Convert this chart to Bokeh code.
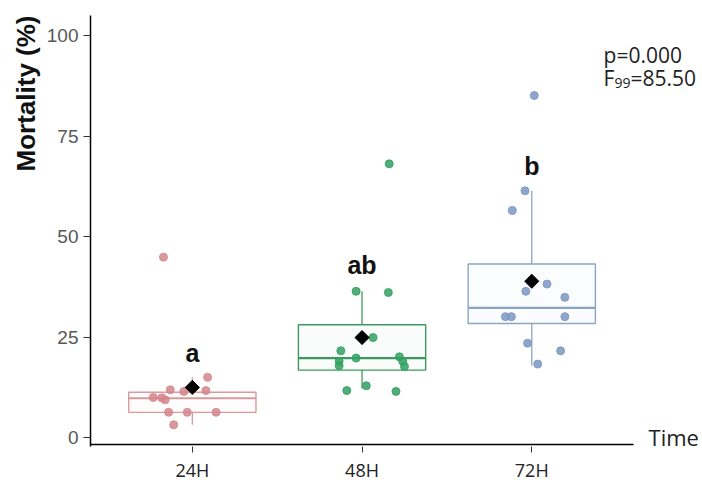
import numpy as np
from bokeh.plotting import figure
from bokeh.models import ColumnDataSource, FixedTicker, Label, Title, Range1d
from bokeh.embed import file_html
from bokeh.resources import INLINE
from bokeh.core.properties import value

# ---- data ----
categories = ["24H", "48H", "72H"]

mort_24h = [44.9, 15.0, 11.9, 11.5, 11.7, 10.0, 9.9, 9.4, 6.3, 6.3, 6.3, 3.2]
jitter_24h = [-0.17, 0.09, -0.13, -0.05, 0.08, -0.23, -0.18, -0.16, -0.14, -0.03, 0.14, -0.11]

mort_48h = [68.1, 36.4, 36.1, 24.9, 21.6, 19.8, 19.0, 17.9, 20.1, 19.0, 17.7, 12.9, 11.7, 11.5]
jitter_48h = [0.16, -0.035, 0.155, 0.065, -0.125, -0.035, -0.135, -0.135, 0.22, 0.24, 0.25, 0.025, -0.09, 0.2]

mort_72h = [85.1, 61.4, 56.5, 38.2, 36.4, 34.9, 30.1, 30.1, 30.1, 23.5, 21.6, 18.3]
jitter_72h = [0.015, -0.04, -0.115, 0.09, -0.035, 0.195, -0.155, -0.12, 0.195, -0.025, 0.17, 0.035]

box_q1 = [6.3, 16.8, 28.4]
box_median = [9.8, 19.8, 32.3]
box_q3 = [11.3, 28.1, 43.2]
whisker_low = [3.2, 12.2, 17.9]
whisker_high = [15.0, 36.4, 61.4]
group_mean = [12.5, 24.9, 38.9]

group_letters = ["a", "ab", "b"]
letter_y = [18.4, 40.3, 65.0]

p_text = "p=0.000"
f_main, f_sub, f_rest = "F", "99", "=85.50"

y_ticks = [0, 25, 50, 75, 100]

# ---- styling / layout ----
point_colors = ["#d4868c", "#33a060", "#7b96c2"]
box_colors = ["#d99a9c", "#3d9a5e", "#8aa6c2"]
box_half = 0.375
PX = 4.02          # screen px per y unit
X0, X1 = 0.4, 3.6  # axis extent
Y_AXIS = -1.7      # where the x axis line sits


def lift(size_px):
    # compensate the renderer's alphabetic-baseline shift
    return 0.43 * size_px / PX


positions = [1, 2, 3]
all_vals = [mort_24h, mort_48h, mort_72h]
all_jit = [jitter_24h, jitter_48h, jitter_72h]

p = figure(width=702, height=488, output_backend="svg", toolbar_location=None,
           x_range=Range1d(0.4, 4.006), y_range=Range1d(-2.2, 105.0),
           min_border_left=90, min_border_right=0, min_border_top=15,
           min_border_bottom=42, background_fill_color="white",
           border_fill_color="white")
p.outline_line_color = None
p.grid.visible = False

# x axis line (stops before the "Time" label)
p.segment(x0=[X0], x1=[X1], y0=[Y_AXIS], y1=[Y_AXIS], line_color="black", line_width=1.5)

# boxes
box_src = ColumnDataSource(dict(
    x=positions, q1=box_q1, q3=box_q3, med=box_median,
    lo=whisker_low, hi=whisker_high, mean=group_mean,
    left=[x - box_half for x in positions], right=[x + box_half for x in positions],
    color=box_colors))
p.quad(left="left", right="right", bottom="q1", top="q3", source=box_src,
       fill_color="color", fill_alpha=0.03, line_color="color", line_width=1.4)
p.segment(x0="x", x1="x", y0="q3", y1="hi", source=box_src, line_color="color", line_width=1.3)
p.segment(x0="x", x1="x", y0="lo", y1="q1", source=box_src, line_color="color", line_width=1.3)
p.segment(x0="left", x1="right", y0="med", y1="med", source=box_src,
          line_color="color", line_width=2.2)

# jittered points
for pos, vals, jit, col in zip(positions, all_vals, all_jit, point_colors):
    p.scatter(x=[pos + j for j in jit], y=vals, size=8, fill_color=col,
              line_color=col, fill_alpha=0.85, line_alpha=0.85)

# means
p.scatter(x="x", y="mean", source=box_src, marker="square", angle=np.pi / 4,
          size=10, fill_color="black", line_color="black")

# letters
p.text(x=positions, y=[v + lift(25) for v in letter_y], text=group_letters,
       text_align="center", text_baseline="alphabetic",
       text_font=value("Liberation Sans"), text_font_style="bold",
       text_font_size="25px", text_color="#111111")

# stats text
SX = 3.423
p.add_layout(Label(x=SX, y=93.0 + lift(21), text=p_text, text_baseline="alphabetic",
                   text_font="Open Sans", text_font_size="21px", text_color="#222222"))
p.add_layout(Label(x=SX, y=87.2 + lift(21), text=f_main, text_baseline="alphabetic",
                   text_font="Open Sans", text_font_size="21px", text_color="#222222"))
p.add_layout(Label(x=SX, x_offset=11, y=86.8 + lift(14), text=f_sub,
                   text_baseline="alphabetic", text_font="Open Sans",
                   text_font_size="14px", text_color="#222222"))
p.add_layout(Label(x=SX, x_offset=27, y=87.2 + lift(21), text=f_rest,
                   text_baseline="alphabetic", text_font="Open Sans",
                   text_font_size="21px", text_color="#222222"))

p.add_layout(Label(x=3.688, y=-2.1 + lift(22), text="Time", text_baseline="alphabetic",
                   text_font="Open Sans", text_font_size="22px", text_color="#222222"))

# axes
p.xaxis.ticker = FixedTicker(ticks=positions)
p.xaxis.major_label_overrides = {pos: c for pos, c in zip(positions, categories)}
p.yaxis.ticker = FixedTicker(ticks=y_ticks)
for ax in (p.xaxis, p.yaxis):
    ax.axis_line_color = "black"
    ax.axis_line_width = 1.5
    ax.major_tick_line_color = "#333333"
    ax.major_tick_out = 7
    ax.major_tick_in = 0
    ax.minor_tick_line_color = None
p.xaxis.axis_line_color = None
p.xaxis.major_tick_out = 6
p.xaxis.major_label_text_font = "Open Sans"
p.xaxis.major_label_text_font_size = "18px"
p.xaxis.major_label_text_color = "#222222"
p.xaxis.major_label_standoff = 5
p.yaxis.major_label_text_font = "Liberation Sans"
p.yaxis.major_label_text_font_size = "19px"
p.yaxis.major_label_text_color = "#585858"
p.yaxis.major_label_standoff = 5

p.add_layout(Title(text="Mortality (%)", align="right", text_font="Liberation Sans",
                   text_font_style="bold", text_font_size="26px",
                   text_color="#111111", standoff=6), "left")

open("out.html", "w").write(file_html(p, INLINE))
